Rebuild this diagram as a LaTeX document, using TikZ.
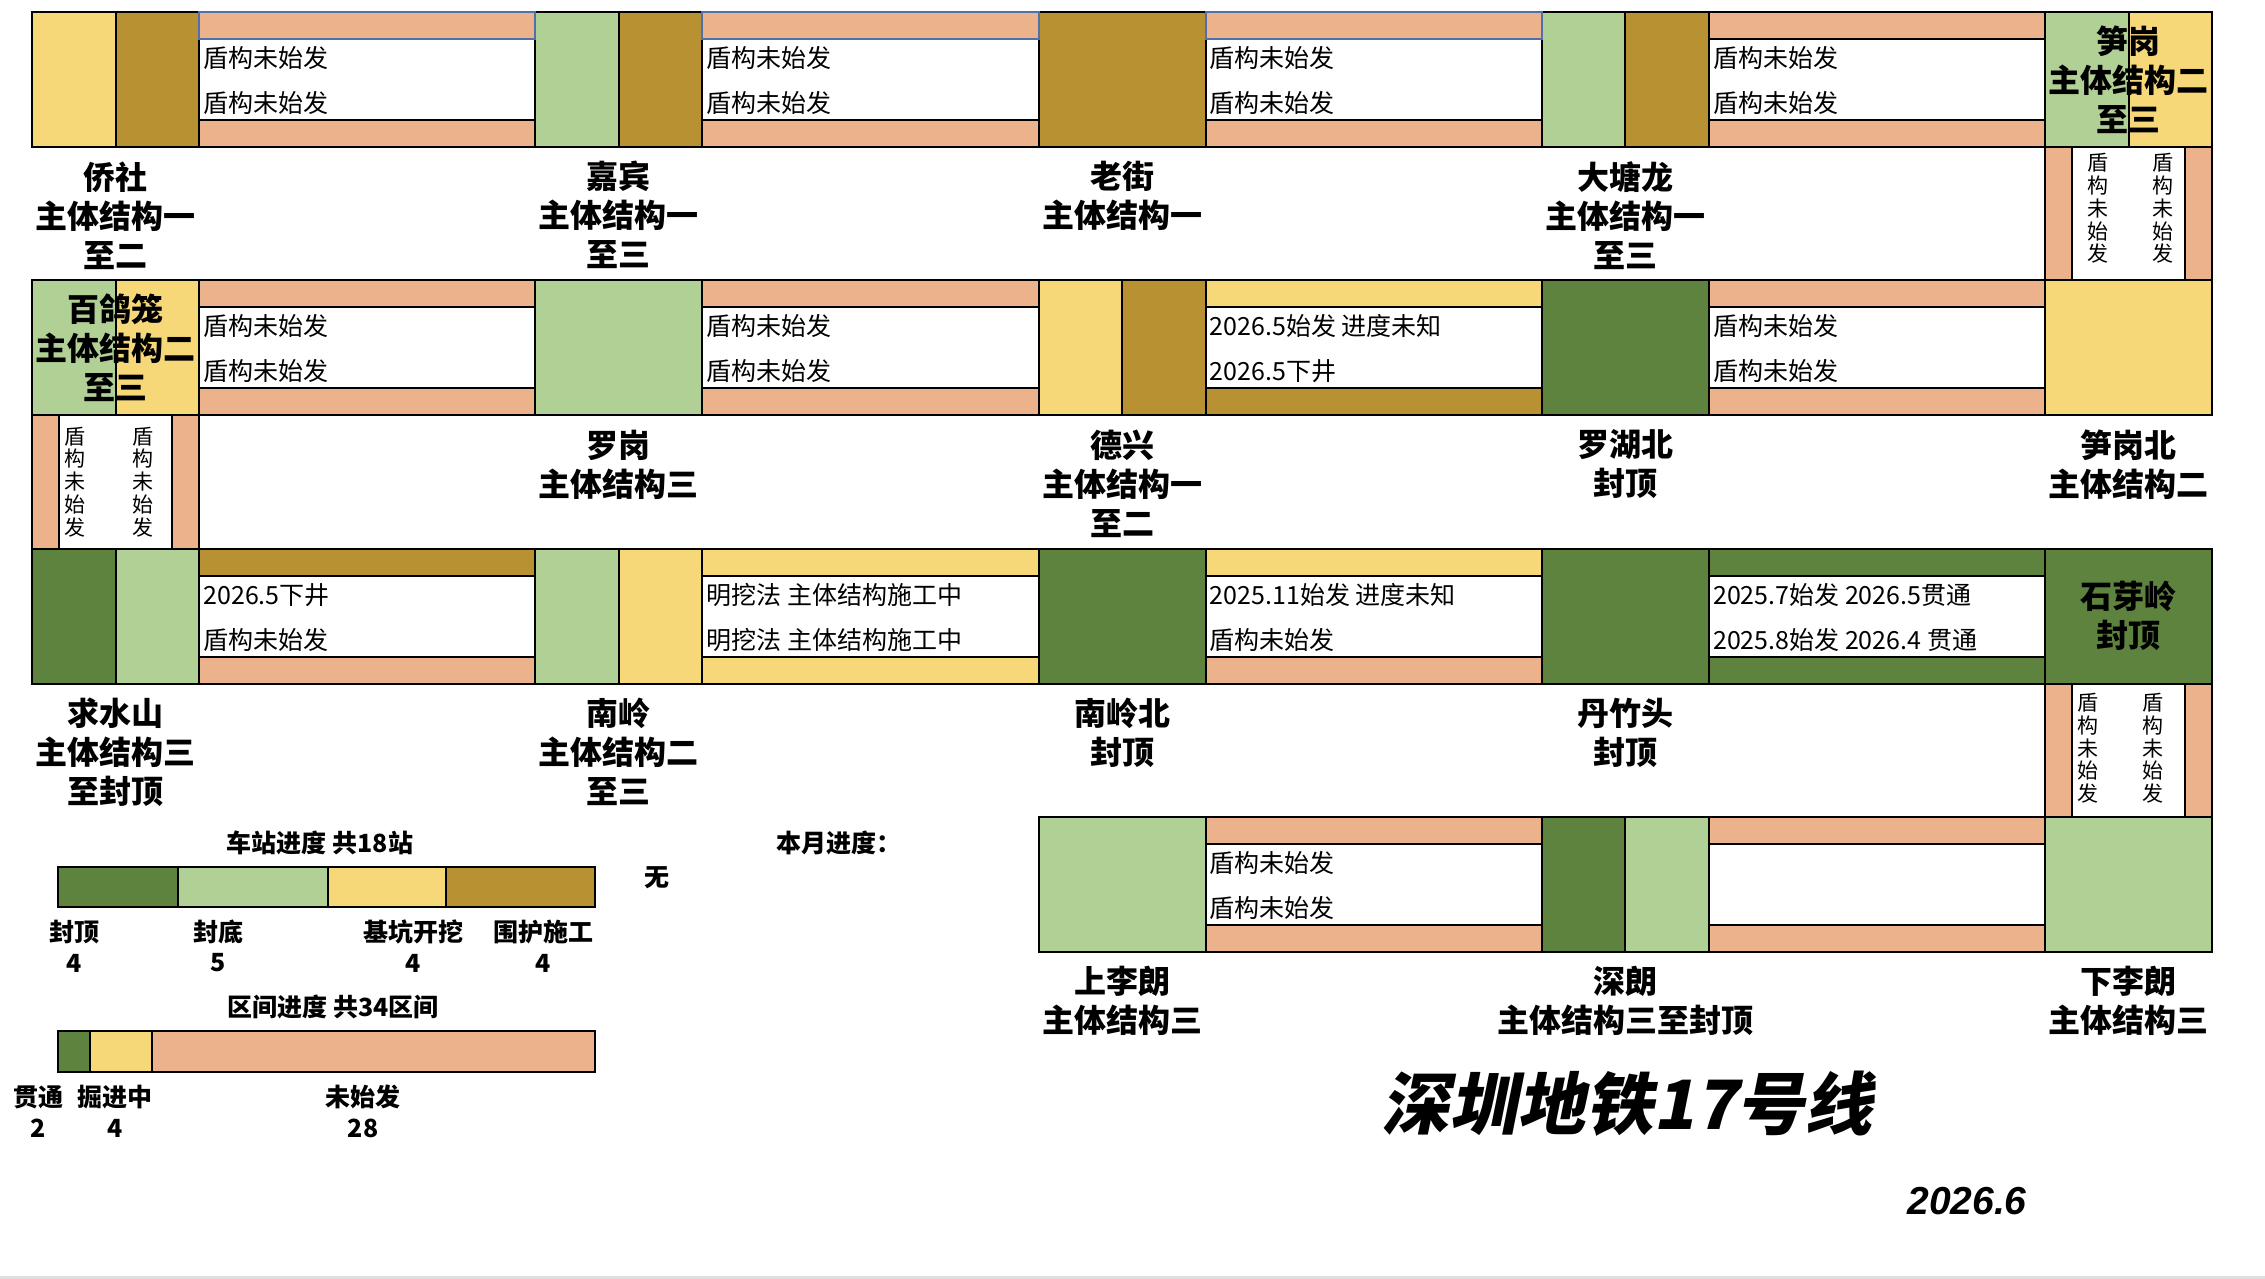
\documentclass[tikz,border=0pt]{standalone}
\usepackage{fontspec}
\setmainfont{Noto Sans CJK SC}
\newfontfamily\titlefont{Noto Sans CJK SC}[FakeSlant=0.2]
\newfontfamily\datefont{Liberation Sans}
\usetikzlibrary{positioning}
\definecolor{mydgreen}{RGB}{94,131,63}
\definecolor{mylgreen}{RGB}{177,208,149}
\definecolor{myyellow}{RGB}{247,216,121}
\definecolor{myolive}{RGB}{184,146,50}
\definecolor{myorange}{RGB}{235,178,140}
\definecolor{myblue}{RGB}{79,113,170}

\tikzset{
  cell/.style={draw=black, line width=1pt, inner sep=0pt, outer sep=0pt, anchor=north west},
  halfst/.style={cell, minimum width=41.75pt, minimum height=67.5pt},
  fullst/.style={cell, minimum width=83.5pt, minimum height=67.5pt},
  band/.style={cell, minimum width=168.125pt, minimum height=13.5pt},
  hole/.style={cell, fill=white, minimum width=168.125pt, minimum height=40.5pt},
  vband/.style={cell, fill=myorange, minimum width=13.5pt, minimum height=66.7pt},
  vhole/.style={cell, fill=white, minimum width=56.5pt, minimum height=66.7pt},
  stname/.style={font=\bfseries\fontsize{16}{19.5}\selectfont, align=center, inner sep=0pt},
  tuntext/.style={font=\fontsize{12.5}{14}\selectfont, anchor=west, inner sep=0pt},
  vtext/.style={font=\fontsize{10.5}{11.4}\selectfont, align=center, anchor=north, inner sep=0pt},
  legtext/.style={font=\bfseries\fontsize{12.5}{14}\selectfont, inner sep=0pt},
}

\begin{document}
\begin{tikzpicture}[x=0.5pt, y=-0.5pt]
  \fill[white] (0,0) rectangle (2265,1279);
  \useasboundingbox (0,0) rectangle (2265,1279);

  % Stations in one colour
  \foreach \i/\j/\fc in {0/2/myolive, 1/1/mylgreen, 1/3/mydgreen, 1/4/myyellow,
      2/2/mydgreen, 2/3/mydgreen, 2/4/mydgreen, 3/2/mylgreen, 3/4/mylgreen} {
    \node[fullst, fill=\fc] (s\i\j) at ({32+503.25*\j},{12+268.4*\i}) {};
  }

  % Stations in two halves
  \foreach \i/\j/\lc/\rc in {0/0/myyellow/myolive, 0/1/mylgreen/myolive, 0/3/mylgreen/myolive,
      0/4/mylgreen/myyellow, 1/0/mylgreen/myyellow, 1/2/myyellow/myolive,
      2/0/mydgreen/mylgreen, 2/1/mylgreen/myyellow, 3/3/mydgreen/mylgreen} {
    \node[fullst, draw=none] (s\i\j) at ({32+503.25*\j},{12+268.4*\i}) {};
    \node[halfst, fill=\lc] (s\i\j-l) at (s\i\j.north west) {};
    \node[halfst, fill=\rc] (s\i\j-r) at (s\i\j-l.north east) {};
  }

  % Tunnels: top band, hole, bottom band
  \foreach \i/\j/\tc/\bc/\ec in {0/0/myorange/myorange/myblue, 0/1/myorange/myorange/myblue,
      0/2/myorange/myorange/myblue, 0/3/myorange/myorange/black,
      1/0/myorange/myorange/black, 1/1/myorange/myorange/black,
      1/2/myyellow/myolive/black, 1/3/myorange/myorange/black,
      2/0/myolive/myorange/black, 2/1/myyellow/myyellow/black,
      2/2/myyellow/myorange/black, 2/3/mydgreen/mydgreen/black,
      3/2/myorange/myorange/black, 3/3/myorange/myorange/black} {
    \node[hole] (h\i\j) at ([yshift=-13.5pt]s\i\j.north east) {};
    \node[band, fill=\bc] (b\i\j) at (h\i\j.south west) {};
    \node[band, fill=\tc, draw=\ec] (t\i\j) at (s\i\j.north east) {};
  }

  % Tunnel progress texts
  \foreach \i/\j/\ta/\tb in {0/0/盾构未始发/盾构未始发, 0/1/盾构未始发/盾构未始发,
      0/2/盾构未始发/盾构未始发, 0/3/盾构未始发/盾构未始发,
      1/0/盾构未始发/盾构未始发, 1/1/盾构未始发/盾构未始发,
      1/2/{2026.5始发 进度未知}/{2026.5下井}, 1/3/盾构未始发/盾构未始发,
      2/0/{2026.5下井}/盾构未始发, 2/1/{明挖法 主体结构施工中}/{明挖法 主体结构施工中},
      2/2/{2025.11始发 进度未知}/盾构未始发, 2/3/{2025.7始发 2026.5贯通}/{2025.8始发 2026.4 贯通},
      3/2/盾构未始发/盾构未始发} {
    \node[tuntext] (x\i\j a) at ([xshift=2pt, yshift=-9.5pt]h\i\j.north west) {\ta};
    \node[tuntext] (x\i\j b) at ([xshift=2pt, yshift=8.5pt]h\i\j.south west) {\tb};
  }

  % Vertical tunnels at the turns
  \foreach \i/\j/\xa/\xb/\ty in {0/4/13/45.5/3, 1/0/8/42/5.5, 2/4/8/40.5/4.5} {
    \node[vband] (vl\i\j) at (s\i\j.south west) {};
    \node[vhole] (vh\i\j) at (vl\i\j.north east) {};
    \node[vband] (vr\i\j) at (vh\i\j.north east) {};
    \node[vtext] (va\i\j) at ([xshift=\xa pt, yshift=-\ty pt]vh\i\j.north west) {盾\\构\\未\\始\\发};
    \node[vtext] (vb\i\j) at ([xshift=\xb pt, yshift=-\ty pt]vh\i\j.north west) {盾\\构\\未\\始\\发};
  }

  % Station names below
  \foreach \i/\j/\txt in {0/0/{侨社\\主体结构一\\至二}, 0/1/{嘉宾\\主体结构一\\至三},
      0/2/{老街\\主体结构一}, 0/3/{大塘龙\\主体结构一\\至三},
      1/1/{罗岗\\主体结构三}, 1/2/{德兴\\主体结构一\\至二},
      1/3/{罗湖北\\封顶}, 1/4/{笋岗北\\主体结构二},
      2/0/{求水山\\主体结构三\\至封顶}, 2/1/{南岭\\主体结构二\\至三},
      2/2/{南岭北\\封顶}, 2/3/{丹竹头\\封顶},
      3/2/{上李朗\\主体结构三}, 3/3/{深朗\\主体结构三至封顶}, 3/4/{下李朗\\主体结构三}} {
    \node[stname, below=7pt of s\i\j] (n\i\j) {\txt};
  }

  % Station names inside
  \foreach \i/\j/\txt in {0/4/{笋岗\\主体结构二\\至三}, 1/0/{百鸽笼\\主体结构二\\至三},
      2/4/{石芽岭\\封顶}} {
    \node[stname] (n\i\j) at (s\i\j) {\txt};
  }

  % Legend: stations
  \node[legtext] (kt) at (320,843) {车站进度 共18站};
  \node[cell, fill=mydgreen, minimum width=60pt, minimum height=20pt] (k1) at (58,867) {};
  \node[cell, fill=mylgreen, minimum width=75pt, minimum height=20pt] (k2) at (k1.north east) {};
  \node[cell, fill=myyellow, minimum width=59pt, minimum height=20pt] (k3) at (k2.north east) {};
  \node[cell, fill=myolive, minimum width=74.5pt, minimum height=20pt] (k4) at (k3.north east) {};
  \foreach \x/\a/\b in {74/封顶/4, 218/封底/5, 413/基坑开挖/4, 543/围护施工/4} {
    \node[legtext] (ka\x) at (\x,932) {\a};
    \node[legtext] (kb\x) at (\x,963) {\b};
  }
  \node[legtext] (none) at (657,878) {无};

  % Legend: tunnels
  \node[legtext] (qt) at (333,1007) {区间进度 共34区间};
  \node[cell, fill=mydgreen, minimum width=16pt, minimum height=20.5pt] (q1) at (58,1031) {};
  \node[cell, fill=myyellow, minimum width=31pt, minimum height=20.5pt] (q2) at (q1.north east) {};
  \node[cell, fill=myorange, minimum width=221.5pt, minimum height=20.5pt] (q3) at (q2.north east) {};
  \foreach \x/\a/\b in {38/贯通/2, 115/掘进中/4, 363/未始发/28} {
    \node[legtext] (qa\x) at (\x,1097) {\a};
    \node[legtext] (qb\x) at (\x,1128) {\b};
  }

  \node[legtext, anchor=west] (month) at (776,843) {本月进度：};

  % Title and date
  \node[font=\titlefont\bfseries\fontsize{34}{40}\selectfont, inner sep=0pt] (title) at (1627,1104) {深圳地铁17号线};
  \node[font=\datefont\bfseries\itshape\fontsize{19.5}{22}\selectfont, inner sep=0pt] (date) at (1967,1201) {2026.6};

  \fill[gray!25] (0,1276) rectangle (2265,1279);
\end{tikzpicture}
\end{document}
